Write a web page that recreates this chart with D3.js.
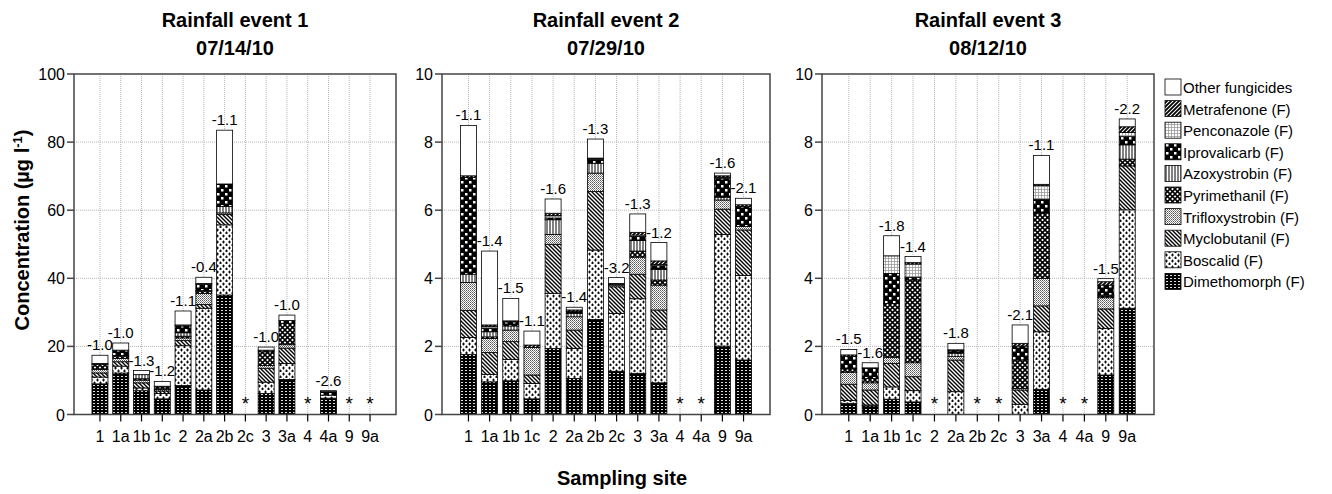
<!DOCTYPE html>
<html lang="en">
<head>
  <meta charset="UTF-8">
  <style>
    html, body { margin: 0; padding: 0; background: #fff; }
    svg { display: block; font-family: Arial, "Liberation Sans", sans-serif; }
    .title { font-size: 20px; font-weight: bold; text-anchor: middle; }
    .axis-title { font-size: 20px; font-weight: bold; text-anchor: middle; }
    .tick-label { font-size: 16px; }
    .bar-label { font-size: 15px; text-anchor: middle; }
    .legend-text { font-size: 15px; }
    .grid { stroke: #b4b4b4; stroke-width: 1; stroke-dasharray: 1,1; }
    .frame { stroke: #444; stroke-width: 1.5; fill: none; }
  </style>
  <script src="https://d3js.org/d3.v7.min.js"></script>
</head>
<body>
  <svg id="chart" width="1332" height="494"></svg>

  <script>
    // sampling sites on every panel
    const sites = ["1", "1a", "1b", "1c", "2", "2a", "2b", "2c", "3", "3a", "4", "4a", "9", "9a"];

    // compounds, bottom of the stack first
    const compounds = ["Dimethomorph (F)", "Boscalid (F)", "Myclobutanil (F)", "Trifloxystrobin (F)",
                       "Pyrimethanil (F)", "Azoxystrobin (F)", "Iprovalicarb (F)", "Penconazole (F)",
                       "Metrafenone (F)", "Other fungicides"];

    const eventTitles = ["Rainfall event 1", "Rainfall event 2", "Rainfall event 3"];
    const eventDates = ["07/14/10", "07/29/10", "08/12/10"];
    const eventMax = [100, 10, 10];
    const eventTicks = [[0, 20, 40, 60, 80, 100], [0, 2, 4, 6, 8, 10], [0, 2, 4, 6, 8, 10]];

    // event 1 (µg/l), one row per compound, one column per site, null = not sampled
    const event1 = [
      [9.0, 12.2, 7.0, 4.6, 8.5, 7.2, 35.1, null, 6.2, 10.3, null, 4.8, null, null],
      [2.0, 2.0, 0.8, 1.6, 11.7, 24.0, 20.6, null, 3.3, 4.7, null, 0.9, null, null],
      [1.2, 1.3, 1.5, 0.7, 1.5, 1.1, 3.0, null, 4.1, 4.5, null, 0, null, null],
      [1.0, 1.0, 0.8, 0.4, 0.8, 3.3, 0.5, null, 0.8, 1.0, null, 0, null, null],
      [1.5, 0.5, 0.4, 0.8, 0.5, 0.5, 0, null, 4.0, 6.3, null, 0, null, null],
      [0.3, 0.3, 1.2, 0.2, 1.0, 0.3, 1.9, null, 0, 0, null, 0, null, null],
      [0, 1.6, 0, 0, 2.0, 1.8, 6.6, null, 0.5, 0.8, null, 1.0, null, null],
      [0, 0, 0, 0, 0.3, 0.3, 0, null, 0, 0, null, 0, null, null],
      [0, 0, 0, 0, 0, 0, 0, null, 0, 0, null, 0, null, null],
      [2.4, 2.1, 1.2, 1.4, 4.1, 1.8, 15.8, null, 0.9, 1.6, null, 0.3, null, null]
    ];
    const event1Labels = [-1.0, -1.0, -1.3, -1.2, -1.1, -0.4, -1.1, null, -1.0, -1.0, null, -2.6, null, null];

    // event 2
    const event2 = [
      [1.76, 0.96, 0.99, 0.46, 1.94, 1.06, 2.79, 1.27, 1.21, 0.93, null, null, 2.01, 1.60],
      [0.50, 0.22, 0.63, 0.45, 1.62, 0.88, 2.04, 1.70, 2.19, 1.58, null, null, 3.28, 2.48],
      [0.80, 0.64, 0.52, 0.25, 1.44, 0.54, 1.72, 0.78, 0.72, 0.56, null, null, 0.74, 1.34],
      [0.82, 0.41, 0.34, 0.81, 0.29, 0.39, 0.54, 0.05, 0.50, 0.73, null, null, 0.27, 0.10],
      [0, 0.05, 0, 0, 0, 0, 0, 0, 0.18, 0.15, null, null, 0, 0],
      [0.24, 0.15, 0.12, 0, 0.43, 0.10, 0.29, 0.03, 0.31, 0.31, null, null, 0.08, 0],
      [2.84, 0.10, 0.12, 0, 0.05, 0.05, 0.10, 0, 0.12, 0.11, null, null, 0.56, 0.59],
      [0, 0.05, 0, 0, 0.07, 0, 0.03, 0, 0.04, 0.04, null, null, 0.03, 0],
      [0.05, 0.05, 0.03, 0.07, 0.07, 0.05, 0.02, 0.02, 0.08, 0.10, null, null, 0.04, 0.05],
      [1.48, 2.17, 0.66, 0.41, 0.42, 0.08, 0.56, 0.17, 0.54, 0.54, null, null, 0.08, 0.19]
    ];
    const event2Labels = [-1.1, -1.4, -1.5, -1.1, -1.6, -1.4, -1.3, -3.2, -1.3, -1.2, null, null, -1.6, -2.1];

    // event 3
    const event3 = [
      [0.33, 0.25, 0.45, 0.37, null, 0, null, null, 0, 0.74, null, null, 1.16, 3.12],
      [0.08, 0.03, 0.36, 0.33, null, 0.67, null, null, 0.30, 1.69, null, null, 1.37, 2.89],
      [0.48, 0.44, 0.69, 0.41, null, 0.93, null, null, 0.42, 0.76, null, null, 0.57, 1.29],
      [0.35, 0.21, 0.18, 0.41, null, 0.10, null, null, 0.05, 0.81, null, null, 0.33, 0],
      [0.10, 0.13, 1.58, 2.43, null, 0, null, null, 0.83, 1.91, null, null, 0.05, 0.20],
      [0, 0, 0, 0, null, 0.10, null, null, 0, 0, null, null, 0.03, 0.42],
      [0.36, 0.29, 0.88, 0.08, null, 0.07, null, null, 0.41, 0.41, null, null, 0.29, 0.24],
      [0, 0, 0.52, 0.39, null, 0, null, null, 0, 0.40, null, null, 0, 0.12],
      [0.05, 0.02, 0, 0.04, null, 0.03, null, null, 0.08, 0.04, null, null, 0.10, 0.17],
      [0.16, 0.15, 0.59, 0.18, null, 0.19, null, null, 0.54, 0.85, null, null, 0.09, 0.23]
    ];
    const event3Labels = [-1.5, -1.6, -1.8, -1.4, null, -1.8, null, null, -2.1, -1.1, null, null, -1.5, -2.2];

    const events = [event1, event2, event3];
    const eventLabels = [event1Labels, event2Labels, event3Labels];

    // ---- layout ----
    const svg = d3.select("#chart");
    const plotTop = 74, plotBottom = 414.5;
    const panels = [[74, 396], [442, 770], [822, 1154]];

    // ---- hatch patterns ----
    const defs = svg.append("defs");
    function pattern(id, w, h) {
      return defs.append("pattern").attr("id", id)
        .attr("patternUnits", "userSpaceOnUse").attr("width", w).attr("height", h);
    }
    // dimethomorph: black with little white dashes
    let p = pattern("p0", 4, 3);
    p.append("rect").attr("width", 4).attr("height", 3).attr("fill", "#000");
    p.append("rect").attr("x", 1).attr("y", 1).attr("width", 2).attr("height", 1).attr("fill", "#ddd");
    // boscalid: small plus signs on white
    p = pattern("p1", 6, 6);
    p.append("rect").attr("width", 6).attr("height", 6).attr("fill", "#fff");
    p.append("path").attr("d", "M1.5,0.5v3M0,2h3M4.5,3.5v3M3,5h3").attr("stroke", "#000").attr("stroke-width", 0.9);
    // myclobutanil: \\\ lines
    p = pattern("p2", 4, 4);
    p.append("rect").attr("width", 4).attr("height", 4).attr("fill", "#fff");
    p.append("path").attr("d", "M-1,-1L5,5M-1,3L1,5M3,-1L5,1").attr("stroke", "#000").attr("stroke-width", 1.4);
    // trifloxystrobin: grey stipple
    p = pattern("p3", 2, 2);
    p.append("rect").attr("width", 2).attr("height", 2).attr("fill", "#fff");
    p.append("rect").attr("width", 1).attr("height", 1).attr("fill", "#555");
    p.append("rect").attr("x", 1).attr("y", 1).attr("width", 1).attr("height", 1).attr("fill", "#888");
    // pyrimethanil: dark diamond crosshatch
    p = pattern("p4", 5, 5);
    p.append("rect").attr("width", 5).attr("height", 5).attr("fill", "#fff");
    p.append("path").attr("d", "M0,0L5,5M5,0L0,5").attr("stroke", "#000").attr("stroke-width", 1.6);
    // azoxystrobin: vertical lines
    p = pattern("p5", 3, 3);
    p.append("rect").attr("width", 3).attr("height", 3).attr("fill", "#fff");
    p.append("path").attr("d", "M1,0V3").attr("stroke", "#000").attr("stroke-width", 1);
    // iprovalicarb: black with white squares
    p = pattern("p6", 8, 8);
    p.append("rect").attr("width", 8).attr("height", 8).attr("fill", "#000");
    p.append("rect").attr("x", 1).attr("y", 1).attr("width", 2.5).attr("height", 2.5).attr("fill", "#fff");
    p.append("rect").attr("x", 5).attr("y", 5).attr("width", 2.5).attr("height", 2.5).attr("fill", "#fff");
    // penconazole: fine light grid
    p = pattern("p7", 3, 3);
    p.append("rect").attr("width", 3).attr("height", 3).attr("fill", "#fff");
    p.append("path").attr("d", "M0,0.5H3M0.5,0V3").attr("stroke", "#999").attr("stroke-width", 0.8);
    // metrafenone: /// thick lines
    p = pattern("p8", 4, 4);
    p.append("rect").attr("width", 4).attr("height", 4).attr("fill", "#fff");
    p.append("path").attr("d", "M-1,5L5,-1M-1,1L1,-1M3,5L5,3").attr("stroke", "#000").attr("stroke-width", 1.8);
    const fills = compounds.map((c, i) => i === 9 ? "#fff" : `url(#p${i})`);

    const y = d3.scaleLinear().range([plotBottom, plotTop]);

    events.forEach((ev, e) => {
      const [x0, x1] = panels[e];
      const x = d3.scalePoint().domain(sites).range([x0, x1]).padding(1.25);
      y.domain([0, eventMax[e]]);
      const bw = 16;
      const g = svg.append("g");

      // grid
      g.selectAll(".gy").data(eventTicks[e].slice(1, -1)).join("line")
        .attr("class", "grid").attr("x1", x0).attr("x2", x1)
        .attr("y1", d => y(d)).attr("y2", d => y(d));
      g.selectAll(".gx").data(sites).join("line")
        .attr("class", "grid").attr("x1", d => x(d)).attr("x2", d => x(d))
        .attr("y1", plotTop).attr("y2", plotBottom);

      // stacks
      const rows = sites.map((s, j) => {
        const r = { site: s };
        compounds.forEach((c, k) => r[c] = ev[k][j] || 0);
        return r;
      });
      const stack = d3.stack().keys(compounds)(rows);
      stack.forEach((layer, k) => {
        g.selectAll(null).data(layer.filter(d => d[1] - d[0] > 0)).join("rect")
          .attr("x", d => x(d.data.site) - bw / 2)
          .attr("width", bw)
          .attr("y", d => y(d[1]))
          .attr("height", d => y(d[0]) - y(d[1]))
          .attr("fill", fills[k])
          .attr("stroke", "#000").attr("stroke-width", 0.8);
      });

      // ratio labels above the bars
      const totals = rows.map(r => d3.sum(compounds, c => r[c]));
      g.selectAll(".bl").data(sites).join("text")
        .attr("class", "bar-label")
        .attr("x", d => x(d))
        .attr("y", (d, j) => y(totals[j]) - 5)
        .text((d, j) => eventLabels[e][j] === null ? "" : eventLabels[e][j].toFixed(1));

      // asterisks for sites without sample
      g.selectAll(".star").data(sites.filter((s, j) => ev[0][j] === null)).join("text")
        .attr("x", d => x(d)).attr("y", plotBottom - 5)
        .attr("text-anchor", "middle").style("font-size", "19px").text("*");

      // frame and axes
      g.append("rect").attr("class", "frame")
        .attr("x", x0).attr("y", plotTop).attr("width", x1 - x0).attr("height", plotBottom - plotTop);
      g.selectAll(".ty").data(eventTicks[e]).join("line")
        .attr("x1", x0 - 7).attr("x2", x0).attr("y1", d => y(d)).attr("y2", d => y(d))
        .attr("stroke", "#444").attr("stroke-width", 1.5);
      g.selectAll(".tyl").data(eventTicks[e]).join("text")
        .attr("class", "tick-label").attr("text-anchor", "end")
        .attr("x", x0 - 9).attr("y", d => y(d) + 6).text(d => d);
      g.selectAll(".tx").data(sites).join("line")
        .attr("x1", d => x(d)).attr("x2", d => x(d))
        .attr("y1", plotBottom).attr("y2", plotBottom + 7)
        .attr("stroke", "#000").attr("stroke-width", 1.2);
      g.selectAll(".txl").data(sites).join("text")
        .attr("class", "tick-label").attr("text-anchor", "middle")
        .attr("x", d => x(d)).attr("y", plotBottom + 27).text(d => d);

      // titles
      const cx = (x0 + x1) / 2;
      g.append("text").attr("class", "title").attr("x", cx).attr("y", 27).text(eventTitles[e]);
      g.append("text").attr("class", "title").attr("x", cx).attr("y", 55).text(eventDates[e]);
    });

    // axis titles
    const yt = svg.append("text").attr("class", "axis-title")
      .attr("transform", "translate(29,230) rotate(-90)");
    yt.append("tspan").text("Concentration (µg l");
    yt.append("tspan").attr("dy", -7).style("font-size", "13px").text("-1");
    yt.append("tspan").attr("dy", 7).text(")");
    svg.append("text").attr("class", "axis-title").attr("x", 622).attr("y", 485).text("Sampling site");

    // legend, top entry = top of stack
    const legend = svg.append("g").attr("transform", "translate(1165,79)");
    const items = compounds.slice().reverse();
    items.forEach((c, i) => {
      const k = compounds.indexOf(c);
      legend.append("rect").attr("x", 0).attr("y", i * 21.6).attr("width", 16).attr("height", 16)
        .attr("fill", fills[k]).attr("stroke", "#000").attr("stroke-width", 0.8);
      legend.append("text").attr("class", "legend-text")
        .attr("x", 18).attr("y", i * 21.6 + 14).text(c);
    });
  </script>
</body>
</html>
